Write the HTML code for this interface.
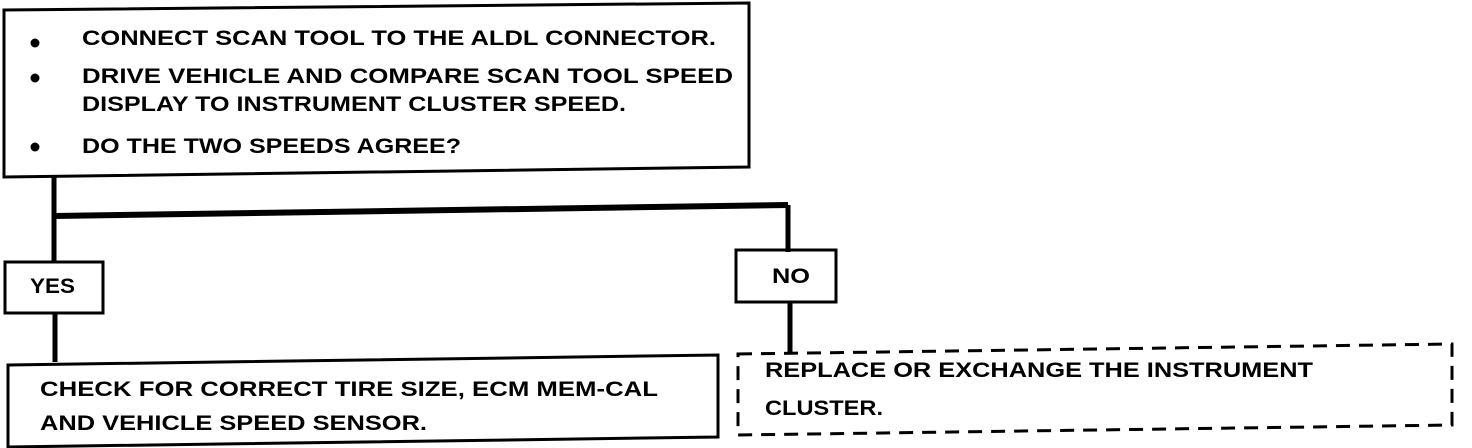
<!DOCTYPE html>
<html><head><meta charset="utf-8"><style>html,body{margin:0;padding:0;background:#fff}svg{display:block}</style></head>
<body>
<svg width="1472" height="448" viewBox="0 0 1472 448" xmlns="http://www.w3.org/2000/svg" font-family="Liberation Sans, Arial, sans-serif" font-weight="bold" font-size="21">
<g fill="none" stroke="#000">
<polygon points="4,10 749,3 749,167 4,177" stroke-width="3"/>
<line x1="54" y1="176" x2="54" y2="263" stroke-width="5"/>
<line x1="54" y1="216" x2="788" y2="205" stroke-width="6"/>
<line x1="788" y1="205" x2="788" y2="252" stroke-width="5"/>
<rect x="5" y="262" width="98" height="51" stroke-width="3"/>
<line x1="55" y1="312" x2="55" y2="362" stroke-width="5"/>
<polygon points="8,365 718,355 718,437 8,447" stroke-width="3"/>
<rect x="736" y="250" width="100" height="52" stroke-width="3"/>
<line x1="790" y1="302" x2="790" y2="352" stroke-width="5"/>
<polygon points="738,354 1452,344 1452,425 738,435" stroke-width="3" stroke-dasharray="14,9"/>
</g>
<g fill="#000">
<circle cx="35" cy="43" r="4.5"/>
<circle cx="35" cy="78" r="4.5"/>
<circle cx="35" cy="147" r="4.5"/>
<text x="82" y="45" textLength="634" lengthAdjust="spacingAndGlyphs">CONNECT SCAN TOOL TO THE ALDL CONNECTOR.</text>
<text x="82" y="83" textLength="651" lengthAdjust="spacingAndGlyphs">DRIVE VEHICLE AND COMPARE SCAN TOOL SPEED</text>
<text x="82" y="111" textLength="544" lengthAdjust="spacingAndGlyphs">DISPLAY TO INSTRUMENT CLUSTER SPEED.</text>
<text x="82" y="153" textLength="379" lengthAdjust="spacingAndGlyphs">DO THE TWO SPEEDS AGREE?</text>
<text x="30" y="293" textLength="45" lengthAdjust="spacingAndGlyphs">YES</text>
<text x="772" y="283" textLength="38" lengthAdjust="spacingAndGlyphs">NO</text>
<text x="40" y="396" textLength="618" lengthAdjust="spacingAndGlyphs">CHECK FOR CORRECT TIRE SIZE, ECM MEM-CAL</text>
<text x="40" y="430" textLength="387" lengthAdjust="spacingAndGlyphs">AND VEHICLE SPEED SENSOR.</text>
<text x="765" y="377" textLength="548" lengthAdjust="spacingAndGlyphs">REPLACE OR EXCHANGE THE INSTRUMENT</text>
<text x="765" y="415" textLength="118" lengthAdjust="spacingAndGlyphs">CLUSTER.</text>
</g>
</svg>
</body></html>
